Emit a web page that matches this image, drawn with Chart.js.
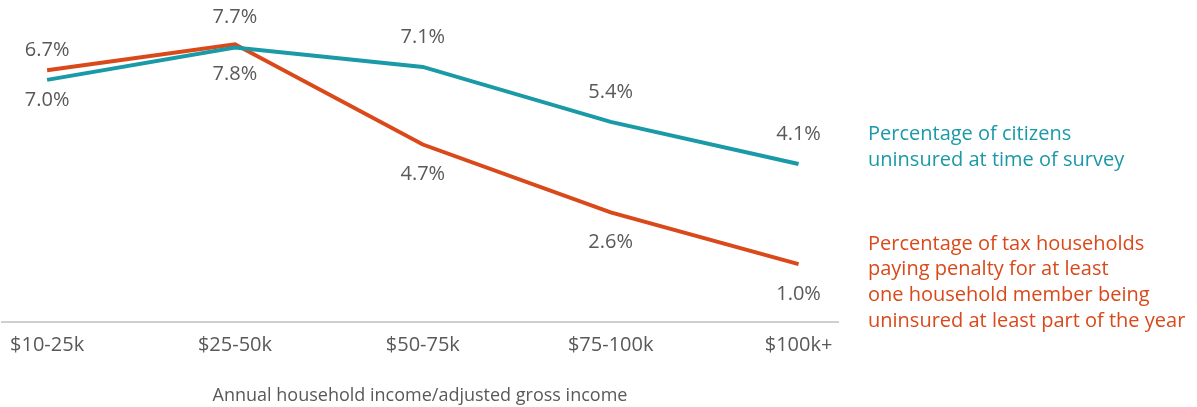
<!DOCTYPE html>
<html>
<head>
<meta charset="utf-8">
<script src="https://cdn.jsdelivr.net/npm/chart.js@4"></script>
<style>
  html, body { margin: 0; padding: 0; background: #fff; }
  #wrap { width: 1197px; height: 407px; position: relative; }
</style>
</head>
<body>
<div id="wrap"><canvas id="uninsuredChart"></canvas></div>
<script>
// income brackets along the x axis
const categories = ['$10-25k', '$25-50k', '$50-75k', '$75-100k', '$100k+'];

// percentage of citizens uninsured at time of survey
const citizensUninsured = [6.7, 7.7, 7.1, 5.4, 4.1];
// percentage of tax households paying the penalty
const householdsPenalty = [7.0, 7.8, 4.7, 2.6, 1.0];

const citizensLegend = ['Percentage of citizens', 'uninsured at time of survey'];
const penaltyLegend = [
    'Percentage of tax households',
    'paying penalty for at least',
    'one household member being',
    'uninsured at least part of the year'
];
const axisTitle = 'Annual household income/adjusted gross income';

const TEAL = '#1a99a7';
const ORANGE = '#d9491a';
const GREY = '#595959';
const FONT = '"Open Sans", "Noto Sans", sans-serif';

/* Value labels: the teal series sits above its points, the orange one below. */
const pointLabels = {
    id: 'pointLabels',
    afterDatasetsDraw(chart) {
        const ctx = chart.ctx;
        ctx.save();
        ctx.font = '20px ' + FONT;
        ctx.fillStyle = GREY;
        ctx.textAlign = 'center';
        ctx.textBaseline = 'middle';
        chart.data.datasets.forEach((ds, i) => {
            const meta = chart.getDatasetMeta(i);
            const shift = i === 0 ? -30 : 30;
            meta.data.forEach((pt, j) => {
                ctx.fillText(ds.data[j].y.toFixed(1) + '%', pt.x, pt.y + shift);
            });
        });
        ctx.restore();
    }
};

/* Series names written to the right of the plot, in the series colour. */
const sideLegend = {
    id: 'sideLegend',
    afterDraw(chart) {
        const ctx = chart.ctx;
        const x = chart.chartArea.right + 30;
        ctx.save();
        ctx.font = '20px ' + FONT;
        ctx.textAlign = 'left';
        ctx.textBaseline = 'middle';
        ctx.fillStyle = TEAL;
        citizensLegend.forEach((t, k) => ctx.fillText(t, x, 134 + k * 26));
        ctx.fillStyle = ORANGE;
        penaltyLegend.forEach((t, k) => ctx.fillText(t, x, 244 + k * 25.7));
        ctx.restore();
    }
};

const toPoints = arr => arr.map((v, i) => ({ x: i, y: v }));

new Chart(document.getElementById('uninsuredChart'), {
    type: 'line',
    data: {
        datasets: [{
            label: citizensLegend.join(' '),
            data: toPoints(citizensUninsured),
            borderColor: TEAL,
            borderWidth: 4,
            pointRadius: 0,
            tension: 0,
        }, {
            label: penaltyLegend.join(' '),
            data: toPoints(householdsPenalty),
            borderColor: ORANGE,
            borderWidth: 4,
            pointRadius: 0,
            tension: 0,
        }]
    },
    options: {
        responsive: true,
        maintainAspectRatio: false,
        animation: false,
        layout: { padding: { left: 2, right: 359, top: 10, bottom: 0 } },
        plugins: {
            legend: { display: false },
            tooltip: { enabled: false },
        },
        scales: {
            x: {
                type: 'linear',
                min: -0.24,
                max: 4.21,
                afterBuildTicks: axis => {
                    axis.ticks = categories.map((c, i) => ({ value: i }));
                },
                grid: { display: false },
                border: { display: true, color: '#cfcfcf', width: 2 },
                ticks: {
                    color: GREY,
                    font: { family: FONT, size: 20 },
                    padding: 3,
                    maxRotation: 0,
                    autoSkip: false,
                    callback: v => categories[v],
                },
                title: {
                    display: true,
                    text: axisTitle,
                    color: GREY,
                    font: { family: FONT, size: 18 },
                    padding: { top: 25, bottom: 0 },
                },
            },
            y: {
                display: false,
                min: -0.8,
                max: 8.86,
            }
        }
    },
    plugins: [pointLabels, sideLegend]
});
</script>
</body>
</html>
